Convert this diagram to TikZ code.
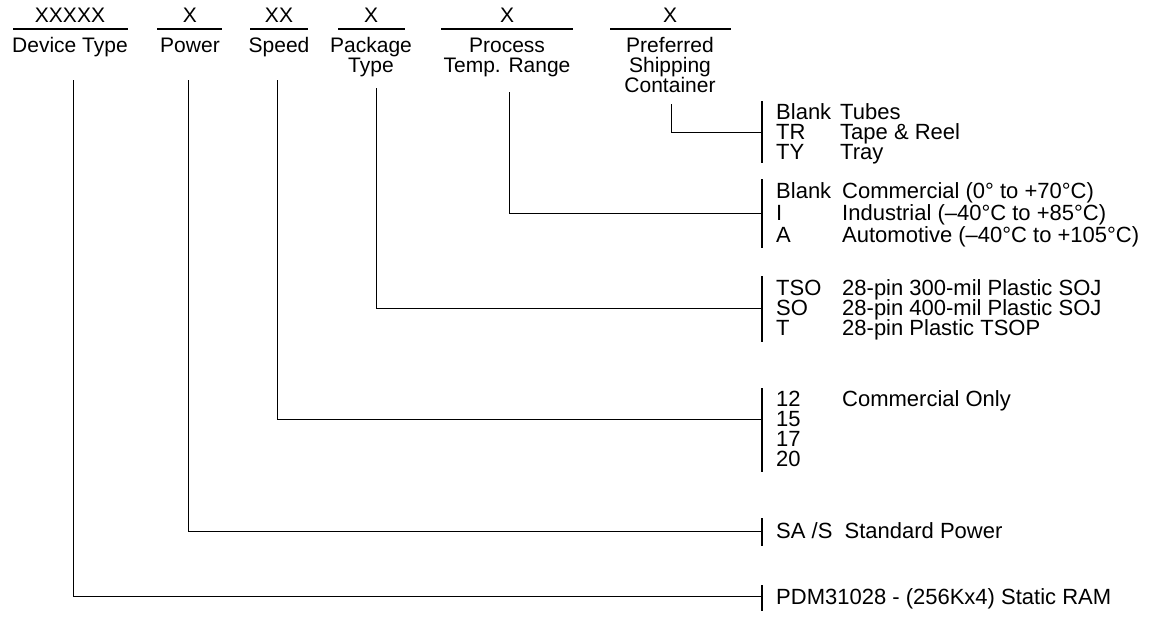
\documentclass[tikz,border=0pt]{standalone}
\usepackage{fontspec}
\setmainfont{Liberation Sans}
\usetikzlibrary{positioning}
\tikzset{
  %% field code above the underline
  field/.style={font=\fontsize{21}{20}\selectfont, inner sep=0pt, anchor=base},
  uline/.style={line width=2.4pt},
  %% field caption below the underline
  lbl/.style={font=\fontsize{21}{20}\selectfont, inner sep=0pt, anchor=north, align=center},
  %% option code / option text
  opt/.style={font=\fontsize{22}{20}\selectfont, inner sep=0pt, anchor=base west},
  wire/.style={line width=0.9pt},
  brk/.style={line width=1.3pt}
}

\begin{document}
\begin{tikzpicture}[x=1pt, y=-1pt]
\useasboundingbox (0,0) rectangle (1153,618);

%% ---------------- header ----------------
\node[field] (fDev)  at (70,22.5)  {XXXXX};
\node[field] (fPow)  at (190,22.5) {X};
\node[field] (fSpd)  at (279,22.5) {XX};
\node[field] (fPkg)  at (371,22.5) {X};
\node[field] (fTmp)  at (507,22.5) {X};
\node[field] (fShp)  at (670,22.5) {X};

\draw[uline] (13,29)  -- (128,29);
\draw[uline] (157,29) -- (222,29);
\draw[uline] (250,29) -- (308,29);
\draw[uline] (338,29) -- (405,29);
\draw[uline] (441,29) -- (573,29);
\draw[uline] (610,29) -- (731,29);

\node[lbl] (lDev) at (70,37.5)  {Device Type};
\node[lbl] (lPow) at (190,37.5) {Power};
\node[lbl] (lSpd) at (279,37.5) {Speed};
\node[lbl] (lPkg) at (371,37.5) {Package\\Type};
\node[lbl] (lTmp) at (507,37.5) {Process\\Temp. Range};
\node[lbl] (lShp) at (670,37.5) {Preferred\\Shipping\\Container};

%% ---------------- option lists ----------------
%% shipping container
\node[opt] (oShp1) at (776,119.5) {Blank};
\node[opt] (oShp2) at (776,139.5) {TR};
\node[opt] (oShp3) at (776,159.5) {TY};
\node[opt] (dShp1) at (840,119.5) {Tubes};
\node[opt] (dShp2) at (840,139.5) {Tape \& Reel};
\node[opt] (dShp3) at (840,159.5) {Tray};

%% temperature range
\node[opt] (oTmp1) at (776,198.5) {Blank};
\node[opt] (oTmp2) at (776,220.5) {I};
\node[opt] (oTmp3) at (776,242.5) {A};
\node[opt] (dTmp1) at (842,198.5) {Commercial (0\textdegree{} to +70\textdegree C)};
\node[opt] (dTmp2) at (842,220.5) {Industrial (\textendash40\textdegree C to +85\textdegree C)};
\node[opt] (dTmp3) at (842,242.5) {Automotive (\textendash40\textdegree C to +105\textdegree C)};

%% package type
\node[opt] (oPkg1) at (776,295.5) {TSO};
\node[opt] (oPkg2) at (776,315.5) {SO};
\node[opt] (oPkg3) at (776,335.5) {T};
\node[opt] (dPkg1) at (842,295.5) {28-pin 300-mil Plastic SOJ};
\node[opt] (dPkg2) at (842,315.5) {28-pin 400-mil Plastic SOJ};
\node[opt] (dPkg3) at (842,335.5) {28-pin Plastic TSOP};

%% speed
\node[opt] (oSpd1) at (776,406.5) {12};
\node[opt] (oSpd2) at (776,426.5) {15};
\node[opt] (oSpd3) at (776,446.5) {17};
\node[opt] (oSpd4) at (776,466.5) {20};
\node[opt] (dSpd1) at (842,406.5) {Commercial Only};

%% power
\node[opt] (oPow1) at (776,538.5) {SA /S\ \ Standard Power};

%% device type
\node[opt] (oDev1) at (776,604.5) {PDM31028 - (256Kx4) Static RAM};

%% ---------------- brackets ----------------
\coordinate (bShp) at (762,132);
\coordinate (bTmp) at (762,213);
\coordinate (bPkg) at (762,308);
\coordinate (bSpd) at (762,419);
\coordinate (bPow) at (762,531);
\coordinate (bDev) at (762,596);

\draw[brk] (762,101) -- (762,163);
\draw[brk] (762,179) -- (762,248);
\draw[brk] (762,276) -- (762,342);
\draw[brk] (762,388) -- (762,472);
\draw[brk] (762,518) -- (762,546);
\draw[brk] (762,585) -- (762,611);

%% ---------------- connectors ----------------
\coordinate (cDev) at (73,80);
\coordinate (cPow) at (188,80);
\coordinate (cSpd) at (277,80);
\coordinate (cPkg) at (376,88);
\coordinate (cTmp) at (509,92);
\coordinate (cShp) at (671,104);

\draw[wire] (cShp) |- (bShp);
\draw[wire] (cTmp) |- (bTmp);
\draw[wire] (cPkg) |- (bPkg);
\draw[wire] (cSpd) |- (bSpd);
\draw[wire] (cPow) |- (bPow);
\draw[wire] (cDev) |- (bDev);

\end{tikzpicture}
\end{document}
